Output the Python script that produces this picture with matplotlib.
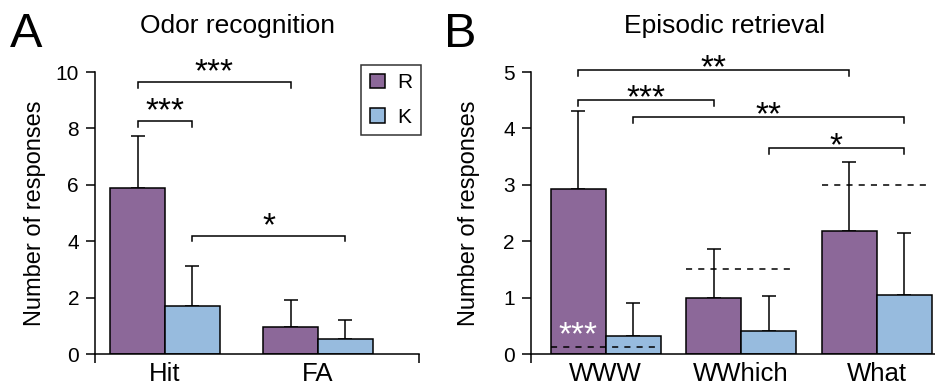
import matplotlib.pyplot as plt
import numpy as np

plt.rcParams['font.family'] = ['Liberation Sans', 'DejaVu Sans']

# A: odor recognition
a_groups = ['Hit', 'FA']
a_r = [5.87, 0.95]
a_r_err = [1.87, 0.96]
a_k = [1.70, 0.53]
a_k_err = [1.42, 0.68]

# B: episodic retrieval
b_groups = ['WWW', 'WWhich', 'What']
b_r = [2.93, 1.00, 2.18]
b_r_err = [1.37, 0.87, 1.23]
b_k = [0.32, 0.41, 1.05]
b_k_err = [0.59, 0.62, 1.10]
b_chance = [0.12, 1.5, 3.0]

# significance brackets: (group1, bar1, group2, bar2, height, label), bar 0 = R, 1 = K
a_sig = [(0, 0, 0, 1, 8.27, '***'),
         (0, 0, 1, 0, 9.66, '***'),
         (0, 1, 1, 1, 4.20, '*')]
b_sig = [(0, 0, 2, 0, 5.04, '**'),
         (0, 0, 1, 0, 4.51, '***'),
         (0, 1, 2, 1, 4.20, '**'),
         (1, 1, 2, 1, 3.66, '*')]

c_r = '#8C6899'
c_k = '#97BBDE'
LW = 1.1
STAR = 24


def panel(ax, groups, r, r_err, k, k_err, w, xlim, ymax, sig, tick_len, star_gap):
    x = np.arange(len(groups))
    xr = x - w / 2
    xk = x + w / 2
    br = ax.bar(xr, r, w, color=c_r, edgecolor='k', lw=LW, zorder=2, label='R')
    bk = ax.bar(xk, k, w, color=c_k, edgecolor='k', lw=LW, zorder=2, label='K')
    ax.errorbar(xr, r, yerr=[np.zeros(len(r)), r_err], fmt='none', ecolor='k',
                elinewidth=LW, capsize=4.7, capthick=LW, zorder=1)
    ax.errorbar(xk, k, yerr=[np.zeros(len(k)), k_err], fmt='none', ecolor='k',
                elinewidth=LW, capsize=4.7, capthick=LW, zorder=1)
    pos = [xr, xk]
    for g1, b1, g2, b2, h, lab in sig:
        x1, x2 = pos[b1][g1], pos[b2][g2]
        ax.plot([x1, x1, x2, x2], [h - tick_len, h, h, h - tick_len], color='k',
                lw=LW, clip_on=False, solid_joinstyle='miter')
        ax.annotate(lab, xy=((x1 + x2) / 2, h), xytext=(0, star_gap - 0.585 * STAR),
                    textcoords='offset points', ha='center', va='baseline',
                    fontsize=STAR, annotation_clip=False)
    ax.set_xlim(xlim)
    ax.set_ylim(0, ymax)
    for s in ['top', 'right']:
        ax.spines[s].set_visible(False)
    for s in ['left', 'bottom']:
        ax.spines[s].set_linewidth(LW)
    ax.set_xticks(x)
    ax.set_xticklabels(groups, fontsize=18.5)
    ax.set_xticks(list(xlim), minor=True)
    ax.tick_params(axis='x', which='major', length=0, pad=6.0)
    ax.tick_params(axis='x', which='minor', length=6.5, width=LW, direction='out')
    ax.tick_params(axis='y', length=6.5, width=LW, labelsize=15, pad=5.0)
    ax.set_ylabel('Number of responses', fontsize=17)
    return br, bk, xr, xk


fig = plt.figure(figsize=(9.35, 3.9), dpi=100)

axA = fig.add_axes([95 / 935, 36 / 390, 324 / 935, 282 / 390])
br, bk, _, _ = panel(axA, a_groups, a_r, a_r_err, a_k, a_k_err, 0.3575,
                     (-0.4575, 1.66), 10, a_sig, 0.21, 14.2)
axA.set_yticks([0, 2, 4, 6, 8, 10])
axA.yaxis.set_label_coords(-0.152, 0.5)
leg = axA.legend(loc='upper right', bbox_to_anchor=(1.005, 1.025), frameon=True,
                 fancybox=False, edgecolor='k', fontsize=15, handlelength=0.72,
                 handleheight=0.72, handletextpad=0.6, labelspacing=0.75,
                 borderpad=0.4, borderaxespad=0)
leg.get_frame().set_linewidth(LW)

axB = fig.add_axes([530.7 / 935, 36 / 390, 419.3 / 935, 282 / 390])
wb = 0.406
_, _, xr, xk = panel(axB, b_groups, b_r, b_r_err, b_k, b_k_err, wb,
                     (-0.5535, 2.541), 5, b_sig, 0.106, 8.6)
axB.set_yticks([0, 1, 2, 3, 4, 5])
axB.yaxis.set_label_coords(-0.122, 0.5)
gx = np.arange(len(b_groups))
axB.hlines(b_chance, gx - wb, gx + wb, colors='k', lw=LW,
           linestyles=(0, (4, 4)), zorder=3)
axB.annotate('***', xy=(xr[0], 0.51), xytext=(0, -0.585 * STAR),
             textcoords='offset points', ha='center', va='baseline',
             fontsize=STAR, color='white', zorder=4)

fig.text(10 / 935, 1 - 47 / 390, 'A', fontsize=35, va='baseline')
fig.text(444 / 935, 1 - 47 / 390, 'B', fontsize=35, va='baseline')
fig.text(237 / 935, 1 - 33 / 390, 'Odor recognition', fontsize=19, ha='center', va='baseline')
fig.text(725 / 935, 1 - 33 / 390, 'Episodic retrieval', fontsize=19, ha='center', va='baseline')

fig.savefig('out.png', dpi=100)
